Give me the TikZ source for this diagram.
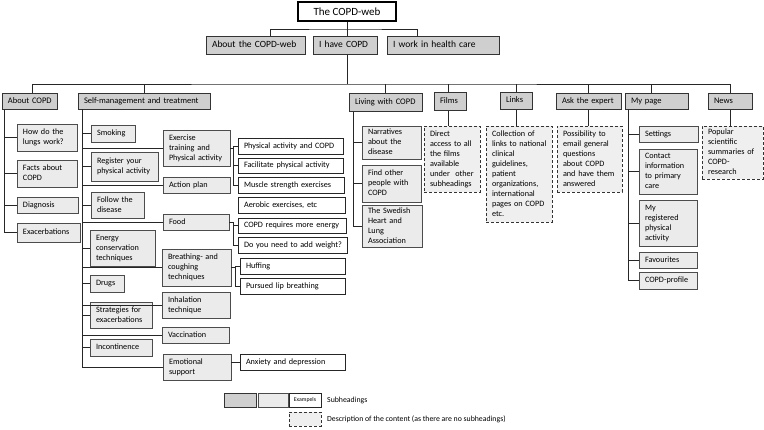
\documentclass[tikz,border=0pt]{standalone}
\usepackage{fontspec}
\setmainfont{Carlito}
\definecolor{hdfill}{HTML}{CFCFCF}
\definecolor{subfill}{HTML}{EBEBEB}
\definecolor{descfill}{HTML}{EFEFEF}
\newcommand\bx[7]{%
  \pgfmathsetmacro\bxw{#4-#2}%
  \pgfmathsetmacro\bxh{#5-#3}%
  \pgfmathsetmacro\bxtw{#4-#2-12}%
  \pgfmathsetmacro\bxcx{(#2+#4)/2}%
  \pgfmathsetmacro\bxcy{(#3+#5)/2}%
  \node[#6, minimum width=\bxw pt, minimum height=\bxh pt, text width=\bxtw pt] (#1) at (\bxcx,\bxcy) {\begin{tabular}{@{}l@{}}#7\end{tabular}};}
\tikzset{
  bxbase/.style={rectangle, inner xsep=6pt, inner ysep=0pt},
  webbox/.style={rectangle, draw=black, line width=2pt, fill=white, font=\fontsize{11}{13}\selectfont, inner sep=0pt},
  lvltwo/.style={bxbase, draw=black!80, line width=1pt, fill=hdfill, font=\fontsize{9.5}{11}\selectfont},
  hd/.style={bxbase, draw=black!80, line width=1pt, fill=hdfill, font=\fontsize{8.5}{10}\selectfont},
  sub/.style={bxbase, draw=black!70, line width=0.9pt, fill=subfill, font=\fontsize{8.2}{10}\selectfont},
  ex/.style={bxbase, draw=black!85, line width=0.8pt, fill=white, font=\fontsize{8.2}{10}\selectfont},
  desc/.style={bxbase, draw=black!80, line width=0.9pt, dash pattern=on 3pt off 2pt, fill=descfill, font=\fontsize{8.2}{10}\selectfont},
  conn/.style={draw=black!85, line width=0.9pt},
  legtext/.style={anchor=west, inner sep=0pt, font=\fontsize{7.8}{9}\selectfont},
}
\begin{document}
\begin{tikzpicture}[x=1pt,y=-1pt]
\useasboundingbox (0,0) rectangle (764,429);
% top
\node[webbox, minimum width=98pt, minimum height=19pt] (web) at (347,11.5) {The COPD-web};
\bx{aboutweb}{206}{36}{305}{54}{lvltwo}{About the COPD-web}
\bx{ihave}{313}{36}{377}{54}{lvltwo}{I have COPD}
\bx{work}{387}{36}{499}{54}{lvltwo}{I work in health care}
% row 3
\bx{acopd}{2}{93}{57}{109}{hd}{About COPD}
\bx{sm}{78}{93}{210}{109}{hd}{Self-management and treatment}
\bx{living}{349}{93}{422}{111}{hd}{Living with COPD}
\bx{films}{434}{92}{466}{110}{hd}{Films}
\bx{links}{500}{92}{532}{109}{hd}{Links}
\bx{ask}{556}{93}{621}{109}{hd}{Ask the expert}
\bx{mypage}{625}{93}{688}{109}{hd}{My page}
\bx{news}{708}{93}{752}{109}{hd}{News}
% About COPD children
\bx{lungs}{17}{124}{77}{151}{sub}{How do the\\lungs work?}
\bx{facts}{17}{160}{77}{187}{sub}{Facts about\\COPD}
\bx{diag}{17}{197}{78}{213}{sub}{Diagnosis}
\bx{exac}{17}{223}{80}{242}{sub}{Exacerbations}
% Self-management, left column
\bx{smoking}{91}{125}{135}{142}{sub}{Smoking}
\bx{register}{91}{152}{158}{181}{sub}{Register your\\physical activity}
\bx{follow}{91}{192}{144}{218}{sub}{Follow the\\disease}
\bx{energy}{90}{230}{155}{266}{sub}{Energy\\conservation\\techniques}
\bx{drugs}{90}{275}{124}{292}{sub}{Drugs}
\bx{strat}{90}{302}{152}{328}{sub}{Strategies for\\exacerbations}
\bx{incont}{90}{339}{152}{356}{sub}{Incontinence}
% Self-management, right column
\bx{exer}{163}{130}{230}{166}{sub}{Exercise\\training and\\Physical activity}
\bx{action}{163}{177}{230}{193}{sub}{Action plan}
\bx{food}{163}{214}{229}{230}{sub}{Food}
\bx{breath}{162}{249}{231}{286}{sub}{Breathing- and\\coughing\\techniques}
\bx{inhal}{162}{292}{230}{318}{sub}{Inhalation\\technique}
\bx{vacc}{162}{327}{229}{343}{sub}{Vaccination}
\bx{emo}{163}{354}{231}{380}{sub}{Emotional\\support}
% examples
\bx{pa}{238}{138}{343}{154}{ex}{Physical activity and COPD}
\bx{fac}{238}{158}{343}{173}{ex}{Facilitate physical activity}
\bx{mus}{238}{177}{344}{193}{ex}{Muscle strength exercises}
\bx{aer}{238}{197}{345}{213}{ex}{Aerobic exercises, etc}
\bx{req}{238}{218}{346}{233}{ex}{COPD requires more energy}
\bx{wei}{238}{237}{347}{253}{ex}{Do you need to add weight?}
\bx{huf}{240}{258}{345}{274}{ex}{Huffing}
\bx{lip}{240}{278}{345}{294}{ex}{Pursued lip breathing}
\bx{anx}{240}{354}{345}{370}{ex}{Anxiety and depression}
% Living with COPD
\bx{narr}{362}{126}{421}{159}{sub}{Narratives\\about the\\disease}
\bx{find}{362}{165}{421}{202}{sub}{Find other\\people with\\COPD}
\bx{swed}{362}{205}{422}{247}{sub}{The Swedish\\Heart and\\Lung\\Association}
% descriptions
\bx{dfilms}{424}{126}{480}{192}{desc}{Direct\\access to all\\the films\\available\\under\ \ other\\subheadings}
\bx{dlinks}{486}{126}{552}{222}{desc}{Collection of\\links to national\\clinical\\guidelines,\\patient\\organizations,\\international\\pages on COPD\\etc.}
\bx{dask}{557}{126}{622}{192}{desc}{Possibility to\\email general\\questions\\about COPD\\and have them\\answered}
\bx{dnews}{702}{126}{763}{179}{desc}{Popular\\scientific\\summaries of\\COPD-\\research}
% My page
\bx{set}{639}{126}{698}{142}{sub}{Settings}
\bx{contact}{639}{149}{697}{194}{sub}{Contact\\information\\to primary\\care}
\bx{myreg}{639}{200}{697}{246}{sub}{My\\registered\\physical\\activity}
\bx{fav}{639}{252}{697}{268}{sub}{Favourites}
\bx{prof}{639}{272}{697}{289}{sub}{COPD-profile}
% legend
\node[rectangle, draw=black!80, line width=1pt, fill=hdfill, minimum width=32pt, minimum height=14pt] (lg1) at (240,400) {};
\node[rectangle, draw=black!70, line width=0.9pt, fill=subfill, minimum width=30pt, minimum height=14pt] (lg2) at (273,400) {};
\node[rectangle, draw=black!85, line width=0.8pt, fill=white, minimum width=32pt, minimum height=14pt, inner sep=0pt, font=\fontsize{5.8}{6}\selectfont] (lg3) at (305,400) {Exampels};
\node[rectangle, draw=black!80, line width=0.9pt, dash pattern=on 3pt off 2pt, fill=descfill, minimum width=32pt, minimum height=14pt] (lg4) at (305,419) {};
\node[legtext] (lgt1) at (327,400) {Subheadings};
\node[legtext] (lgt2) at (327,419) {Description of the content (as there are no subheadings)};
% connectors: top levels
\coordinate (j1) at (347,29);
\coordinate (j2) at (347,84);
\draw[conn] (web.south) -- (j1);
\draw[conn] ([xshift=14.5pt]aboutweb.north) |- (j1) -| ([xshift=-26pt]work.north);
\draw[conn] (j1) -- ([xshift=2pt]ihave.north);
\draw[conn] ([xshift=2pt]ihave.south) -- (j2);
\draw[conn] ([xshift=2.5pt]acopd.north) |- (j2) -| (news.north);
\draw[conn] (sm.north) -- (sm.north |- j2);
\draw[conn] (living.north) -- (living.north |- j2);
\draw[conn] ([xshift=-2pt]films.north) -- ([xshift=-2pt]films.north |- j2);
\draw[conn] (links.north) -- (links.north |- j2);
\draw[conn] (ask.north) -- (ask.north |- j2);
\draw[conn] ([xshift=-5.5pt]mypage.north) -- ([xshift=-5.5pt]mypage.north |- j2);
% About COPD
\foreach \c in {lungs,facts,diag,exac}
  \draw[conn] ([xshift=3pt]acopd.south west) |- (\c.west);
% Self-management
\foreach \c in {smoking,register,follow,energy,drugs,strat,incont,exer,action,food,breath,inhal,vacc,emo}
  \draw[conn] ([xshift=5pt]sm.south west) |- (\c.west);
\foreach \c in {pa,fac,mus}
  \draw[conn] (exer.east) -- ++(3,0) |- (\c.west);
\foreach \c in {req,wei}
  \draw[conn] (food.east) -- ++(4,0) |- (\c.west);
\foreach \c in {huf,lip}
  \draw[conn] (breath.east) -- ++(4,0) |- (\c.west);
\draw[conn] (emo.east |- anx.west) -- (anx.west);
% Living
\foreach \c in {narr,find,swed}
  \draw[conn] ([xshift=5pt]living.south west) |- (\c.west);
% descriptions
\draw[conn] ([xshift=-2pt]films.south) -- ([xshift=-2pt]films.south |- dfilms.north);
\draw[conn] (links.south) -- (links.south |- dlinks.north);
\draw[conn] (ask.south) -- (ask.south |- dask.north);
\draw[conn] (news.south) -- (news.south |- dnews.north);
% My page
\foreach \c in {set,contact,myreg,fav,prof}
  \draw[conn] ([xshift=4pt]mypage.south west) |- (\c.west);
\end{tikzpicture}
\end{document}
